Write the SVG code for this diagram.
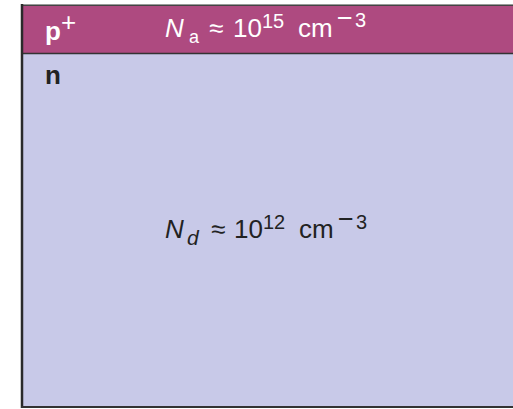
<svg xmlns="http://www.w3.org/2000/svg" width="513" height="409" viewBox="0 0 513 409">
<style>
.t{font-family:"Liberation Sans",Arial,sans-serif;font-size:26px}
.s{font-size:18px}
.u{font-size:20px}
.m{font-size:27px}
.w{fill:#ffffff}
.k{fill:#222222}
.b{font-weight:bold}
.i{font-style:italic}
</style>
<rect x="0" y="0" width="513" height="409" fill="#ffffff"/>
<g id="n-region">
<rect x="22" y="53" width="495" height="354" fill="#c8c9e8"/>
<text class="t k b" x="45" y="84" font-size="27">n</text>
<text class="t k"><tspan class="i" x="165" y="238">N</tspan><tspan class="i" font-size="21" x="187" y="245">d</tspan><tspan x="211" y="238">≈</tspan><tspan x="234" y="238">10</tspan><tspan class="u" x="263" y="229">12</tspan><tspan x="299" y="238">cm</tspan><tspan class="m" x="338" y="228">−</tspan><tspan class="u" x="356" y="229">3</tspan></text>
</g>
<g id="p-region">
<rect x="22" y="4" width="495" height="49" fill="#ae4a80"/>
<text class="t w b" x="45" y="40" font-size="25">p</text><text class="t w" font-size="17" x="61" y="31">+</text>
<text class="t w"><tspan class="i" x="165" y="37">N</tspan><tspan class="s" x="189" y="43">a</tspan><tspan x="209" y="37">≈</tspan><tspan x="233" y="37">10</tspan><tspan class="u" x="262" y="28">15</tspan><tspan x="298" y="37">cm</tspan><tspan class="m" x="337" y="27">−</tspan><tspan class="u" x="355" y="27">3</tspan></text>
</g>
<g id="borders" fill="none">
<line x1="21" y1="4.5" x2="513" y2="4.5" stroke="#9a9a9a" stroke-width="1"/>
<line x1="21" y1="5.5" x2="513" y2="5.5" stroke="#444" stroke-width="1"/>
<line x1="22" y1="53.5" x2="513" y2="53.5" stroke="#333" stroke-width="1.5"/>
<line x1="22" y1="4" x2="22" y2="408" stroke="#2a2a2a" stroke-width="2.5"/>
<line x1="21" y1="407" x2="513" y2="407" stroke="#333" stroke-width="2"/>
</g>
</svg>
